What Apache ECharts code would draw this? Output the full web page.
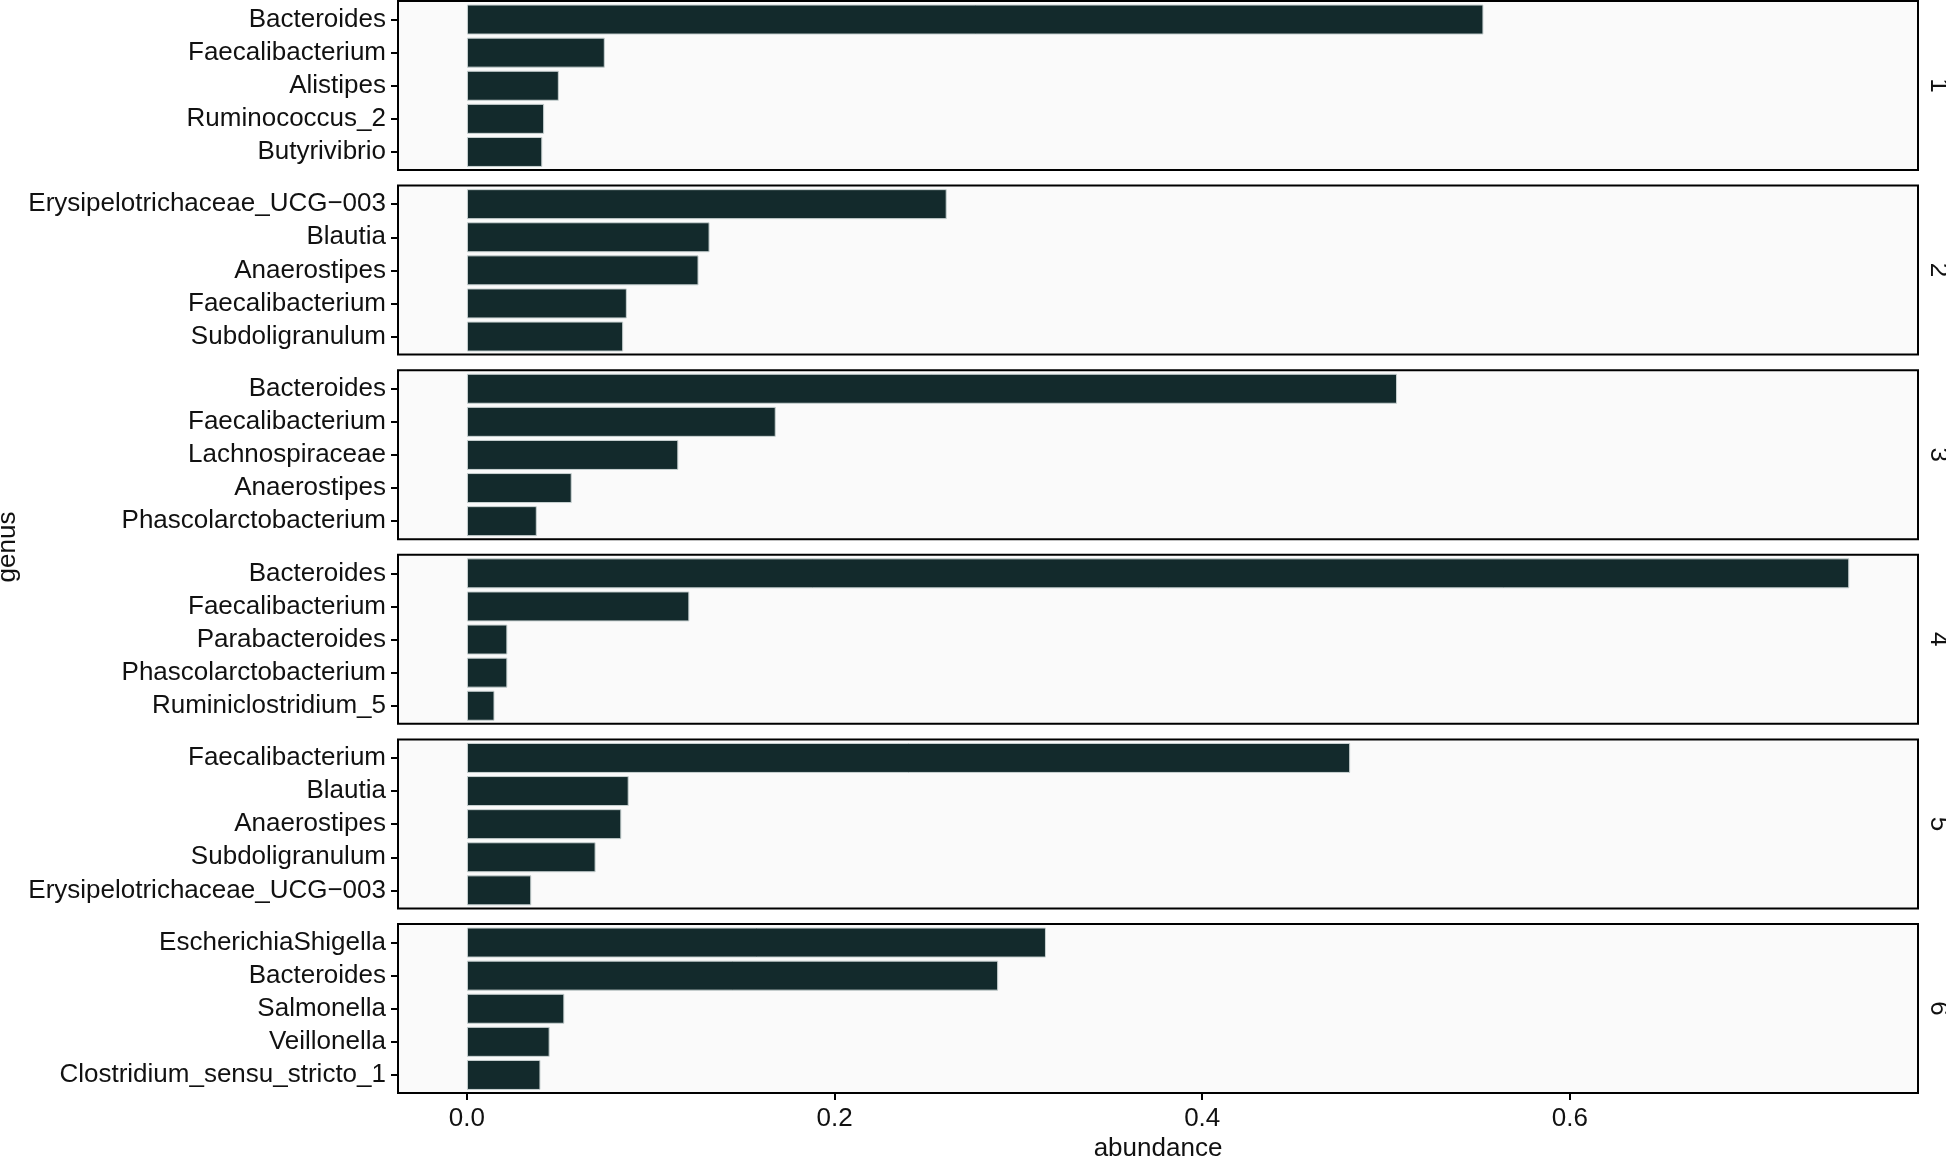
<!DOCTYPE html>
<html>
<head>
<meta charset="utf-8">
<script src="https://cdn.jsdelivr.net/npm/echarts@6/dist/echarts.min.js"></script>
<style>
html,body{margin:0;padding:0;background:#fff;}
#chart{width:1946px;height:1157px;}
</style>
</head>
<body>
<div id="chart"></div>
<script>
// ---- data ----
const panelLabels = ['1', '2', '3', '4', '5', '6'];
const genus1 = ['Bacteroides', 'Faecalibacterium', 'Alistipes', 'Ruminococcus_2', 'Butyrivibrio'];
const abundance1 = [0.553, 0.075, 0.050, 0.042, 0.041];
const genus2 = ['Erysipelotrichaceae_UCG\u2212003', 'Blautia', 'Anaerostipes', 'Faecalibacterium', 'Subdoligranulum'];
const abundance2 = [0.261, 0.132, 0.126, 0.087, 0.085];
const genus3 = ['Bacteroides', 'Faecalibacterium', 'Lachnospiraceae', 'Anaerostipes', 'Phascolarctobacterium'];
const abundance3 = [0.506, 0.168, 0.115, 0.057, 0.038];
const genus4 = ['Bacteroides', 'Faecalibacterium', 'Parabacteroides', 'Phascolarctobacterium', 'Ruminiclostridium_5'];
const abundance4 = [0.752, 0.121, 0.022, 0.022, 0.015];
const genus5 = ['Faecalibacterium', 'Blautia', 'Anaerostipes', 'Subdoligranulum', 'Erysipelotrichaceae_UCG\u2212003'];
const abundance5 = [0.4805, 0.088, 0.084, 0.070, 0.035];
const genus6 = ['EscherichiaShigella', 'Bacteroides', 'Salmonella', 'Veillonella', 'Clostridium_sensu_stricto_1'];
const abundance6 = [0.315, 0.289, 0.053, 0.045, 0.040];
const xTicks = [0, 0.2, 0.4, 0.6];
const xTitle = 'abundance';
const yTitle = 'genus';

const genusList = [genus1, genus2, genus3, genus4, genus5, genus6];
const abundanceList = [abundance1, abundance2, abundance3, abundance4, abundance5, abundance6];

// ---- layout ----
const FONT = '"Liberation Sans", Arial, Helvetica, sans-serif';
const gridLeft = 398, gridRight = 1918, panelH = 169, panelStep = 184.6, firstTop = 1;
const bandH = 33.1, innerOffset = 2;
const xMin = -0.0375, xMax = 0.7894;
const barColor = '#132a2c';

const grids = [], xAxes = [], yAxes = [], series = [], graphics = [];
for (let i = 0; i < 6; i++) {
  const top = firstTop + i * panelStep;
  const last = i === 5;
  // panel background (under bars) and border (over bars)
  graphics.push({
    type: 'rect', z: 0, silent: true,
    shape: { x: gridLeft, y: top, width: gridRight - gridLeft, height: panelH },
    style: { fill: '#fafafa' }
  });
  graphics.push({
    type: 'rect', z: 100, silent: true,
    shape: { x: gridLeft, y: top, width: gridRight - gridLeft, height: panelH },
    style: { fill: 'none', stroke: '#000', lineWidth: 2 }
  });
  grids.push({
    left: gridLeft, width: gridRight - gridLeft, top: top + innerOffset, height: bandH * 5,
    show: false, containLabel: false
  });
  xAxes.push({
    type: 'value', gridIndex: i, min: xMin, max: xMax,
    offset: panelH - innerOffset - bandH * 5,
    splitLine: { show: false },
    axisLine: { show: false, onZero: false },
    axisTick: { show: last, length: 7, lineStyle: { color: '#000', width: 2 }, customValues: xTicks },
    axisLabel: { show: last, fontSize: 26, color: '#111', fontFamily: FONT, margin: 13,
      customValues: xTicks, formatter: v => v.toFixed(1) }
  });
  yAxes.push({
    type: 'category', gridIndex: i, data: genusList[i], inverse: true,
    axisLine: { show: false, onZero: false },
    axisTick: { show: true, length: 7, alignWithLabel: true, interval: 0, lineStyle: { color: '#000', width: 2 } },
    axisLabel: { fontSize: 26, color: '#111', fontFamily: FONT, margin: 12, interval: 0, hideOverlap: false,
      padding: [4, 0, 0, 0] },
    splitLine: { show: false }
  });
  series.push({
    type: 'bar', xAxisIndex: i, yAxisIndex: i, data: abundanceList[i],
    barWidth: 30, z: 2,
    itemStyle: { color: barColor, borderColor: '#c9d2d2', borderWidth: 1 },
    silent: true
  });
  graphics.push({
    type: 'text', x: 1938, y: top + panelH / 2, rotation: -Math.PI / 2,
    style: { text: panelLabels[i], font: '26px ' + FONT, fill: '#111', align: 'center', verticalAlign: 'middle' }
  });
}
graphics.push({
  type: 'text', x: (gridLeft + gridRight) / 2, y: 1149,
  style: { text: xTitle, font: '26px ' + FONT, fill: '#111', align: 'center', verticalAlign: 'middle' }
});
graphics.push({
  type: 'text', x: 8, y: 547, rotation: Math.PI / 2,
  style: { text: yTitle, font: '26px ' + FONT, fill: '#111', align: 'center', verticalAlign: 'middle' }
});

const chart = echarts.init(document.getElementById('chart'), null, { renderer: 'canvas' });
chart.setOption({
  animation: false,
  backgroundColor: '#fff',
  grid: grids,
  xAxis: xAxes,
  yAxis: yAxes,
  series: series,
  graphic: graphics
});
</script>
</body>
</html>
